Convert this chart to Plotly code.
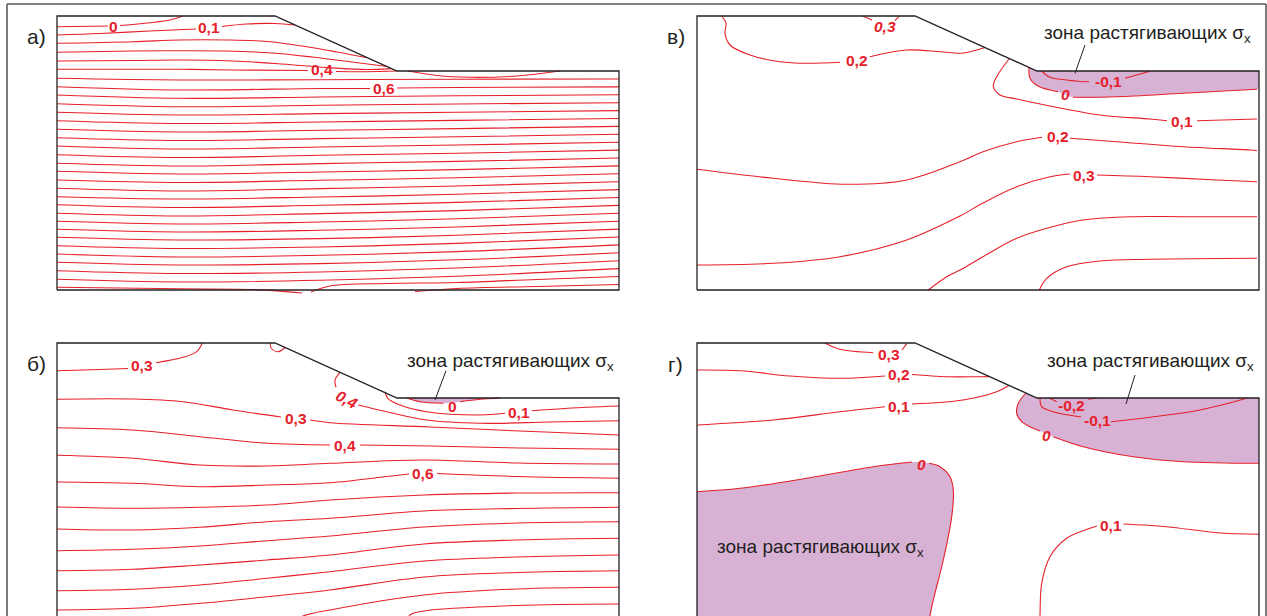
import plotly.graph_objects as go

FIG_W, FIG_H = 1267, 616
# section geometry (model units = px of the original drawing)
SEC_W, SEC_H = 562, 274
CREST_X, TOE_X, TOE_D = 218, 340, 55
PAD = 4

RED = '#e6202a'
PINK = '#d8b2d4'
INK = '#231f20'
FONT = 'Arial, Liberation Sans, sans-serif'

# ---------------- panel а ----------------
A_L0_X = [0, 51, None, 63, 93, 113, 126]
A_L0_Y = [10.7, 10, None, 9.5, 6.7, 4, 0]
A_L1_X = [0, 43, 93, 139, None, 165, 190, 218, 238]
A_L1_Y = [19, 17.5, 15, 13, None, 10.5, 8, 7.5, 9]
A_L2_X = [0, 76, 123, 170, 210, 245, 280, 310]
A_L2_Y = [27.3, 25.7, 24, 24, 25.5, 30, 36, 41.8]
A_L3_X = [0, 76, 123, 170, 215, 255, 295, 330]
A_L3_Y = [36.3, 35, 34.7, 35, 37, 41, 46, 50.5]
A_L4_X = [0, 76, 123, 175, 225, 270, 310, 334]
A_L4_Y = [45, 44.5, 44, 45, 48, 51.5, 53.5, 52.6]
A_L5_X = [0, 76, 123, 175, 251, None, 279, 310, 340]
A_L5_Y = [53.3, 53.3, 53.3, 54, 54.5, None, 55.5, 55.7, 55]
A_LOOP_X = [351, 380, 413, 460, 503]
A_LOOP_Y = [55, 59.5, 61.3, 60, 55]
A_L7_X = [0, 123, 263, 313, None, 340, 400, 562]
A_L7_Y = [70.7, 74, 72.5, 72.5, None, 72, 71.5, 70.9]
A_L31_X = [0, 123, 200, 245]
A_L31_Y = [271.3, 272.8, 273.6, 277]
A_E1_X = [254, 273, 330, 400, 480, 562]
A_E1_Y = [276, 270, 267.5, 266.5, 263.5, 260.5]
A_E2_X = [358, 400, 480, 562]
A_E2_Y = [275.5, 272.5, 270.5, 268.5]
# the remaining, nearly parallel lines: depth read at five verticals
A_COL_X = [0, 123, 263, 400, 562]
A_Y_0 = [62.3, 79, 87.7, 96.3, 104.7, 113.3, 121.7, 130, 138.7, 147.3, 155.3, 164, 172.3,
         180.7, 188.7, 197.3, 205.3, 213.3, 221.3, 229.7, 238, 246.3, 254.7, 263.3]
A_Y_123 = [64, 82.3, 90.7, 99, 107.5, 116, 124.5, 133, 141.5, 150, 158, 166.5, 175, 183,
           191.5, 200, 208, 216, 224, 232.5, 241, 249, 257.5, 266]
A_Y_263 = [63.7, 81, 89.3, 97.6, 106, 114.3, 122.6, 131, 139.3, 147.6, 156, 164.3, 172.6,
           181, 189.3, 197.6, 206, 214.3, 222.6, 231, 239.3, 247.6, 256, 264.3]
A_Y_400 = [63.2, 79.8, 88, 96.2, 104.4, 112.6, 120.8, 129, 137.2, 145.4, 153.6, 161.8, 170,
           178.2, 186.4, 194.6, 202.8, 211, 219.2, 227.4, 235.6, 243.8, 252, 260.2]
A_Y_562 = [63, 78.8, 86.7, 94.6, 102.5, 110.4, 118.3, 126.2, 134.1, 142, 149.9, 157.8, 165.7,
           173.6, 181.5, 189.4, 197.3, 205.2, 213.1, 221, 228.9, 236.8, 244.7, 252.6]
A_LAB_T = ['0', '0,1', '0,4', '0,6']
A_LAB_X = [56.7, 152, 264.5, 326.5]
A_LAB_Y = [10.5, 11.5, 54, 73]

# ---------------- panel в ----------------
V_03_X = [165.7, 175, None, 198, 202.3]
V_03_Y = [0, 4, None, 4.7, 0]
V_02_X = [24.7, 29, 28, 33, 53, 83, 109.7, 143, None, 173, 209.7, 243, 263, 273, 288]
V_02_Y = [0, 7.3, 17.3, 29, 39, 45.7, 47.3, 46.3, None, 40.7, 34, 35.7, 37.3, 35.7, 31.5]
V_01_X = [312, 299.7, 296.3, 303, 319.7, 353, 403, 453, 470, None, 500, 560]
V_01_Y = [43, 60.7, 70.7, 79, 83, 90, 99, 103, 104.7, None, 104.7, 103]
V_0_X = [332, 333, 341, 361, None, 376, 420, 486, 560]
V_0_Y = [51.2, 62.3, 70, 75.7, None, 81.3, 80.7, 77.3, 73.3]
V_M01_X = [344.7, 353, 369.7, 386.3, 392, None, 428, 453]
V_M01_Y = [55, 61.3, 64, 65.7, 65.7, None, 62.3, 55.2]
V_02B_X = [0, 76, 149.7, 209.7, 263, 286, 319.7, 345, None, 373, 419.7, 486, 553, 560]
V_02B_Y = [153.3, 162.3, 168.3, 164, 145.7, 135.7, 125.7, 121.3, None, 122.3, 125.7, 130.7, 134, 134.7]
V_03B_X = [0, 76, 143, 209.7, 263, 286, 319.7, 353, 373, None, 400, 453, 519.7, 560]
V_03B_Y = [249, 247.3, 240.7, 224, 200, 187, 170.7, 160.7, 158, None, 159, 160.7, 164, 165.7]
V_B5_X = [231.3, 249.7, 263, 286, 319.7, 349.7, 386, 436, 486, 560]
V_B5_Y = [274, 260.7, 254, 240.7, 222.3, 212.3, 204, 200.7, 200.7, 200.7]
V_B6_X = [342.3, 349.7, 369.7, 403, 453, 560]
V_B6_Y = [274, 262.3, 250.7, 245, 243.3, 242.3]
V_LAB_T = ['0,3', '0,2', '-0,1', '0', '0,1', '0,2', '0,3']
V_LAB_X = [188, 159.5, 411, 368, 485, 360.5, 387]
V_LAB_Y = [11, 44.5, 65.5, 79, 105.5, 121, 160]
V_LAB_IT = [True, False, False, True, False, False, False]

# ---------------- panel б ----------------
B_03A_X = [0, 43, 71, None, 99, 126, 139.7, 145.3]
B_03A_Y = [27.7, 26.5, 25.5, None, 19.7, 14.3, 8.7, 0]
B_LOOP_X = [213, 214.7, 221.3, 228]
B_LOOP_Y = [0, 6, 8.7, 4.5]
B_04R_X = [283, 278, 279, None, 301.3, 329.7, 369.7, 423, 493, 562]
B_04R_Y = [29.3, 37, 44.3, None, 62, 68.7, 77, 80.3, 79, 77.7]
B_0_X = [349.7, 363, 386.3, None, 403, 423, 443]
B_0_Y = [55, 58.7, 60.3, None, 58.7, 56.3, 55]
B_01_X = [328, 330.7, 343, 369.7, 423, 448, None, 474.7, 529.7, 562]
B_01_Y = [48.7, 55.3, 62, 68.7, 72, 70.3, None, 67.7, 64.3, 63]
B_03B_X = [0, 76, 126, 176, 224, None, 253, 273, 373, 463, 562]
B_03B_Y = [56.3, 56, 58.7, 67, 74, None, 77, 79.7, 84, 88, 92]
B_04B_X = [0, 76, 143, 209.7, 273, None, 303, 373, 463, 562]
B_04B_Y = [84.7, 87, 93.7, 100.3, 102, None, 102, 103, 105, 106.3]
B_06_X = [0, 76, 143, 210, 273, 330, 352, None, 380, 460, 562]
B_06_Y = [139, 140.3, 143.7, 142, 139.7, 133.5, 131, None, 130.5, 133.5, 135.3]
B_COL_X = [0, 76, 143, 210, 273, 367, 460, 562]
B_Y_0 = [112.3, 164, 186, 207.7, 227.7, 247.7, 267]
B_Y_76 = [115.3, 165.3, 187, 206.3, 226.3, 246.3, 265.3]
B_Y_143 = [122, 164.3, 184.3, 203, 222, 242, 260.3]
B_Y_210 = [123, 162, 178.7, 197.7, 217, 235.3, 253.7]
B_Y_273 = [120.3, 157, 175.3, 193, 212, 228.7, 247]
B_Y_367 = [117, 152, 168, 184, 201, 218, 234]
B_Y_460 = [120, 150, 165.5, 180, 197, 214, 229.5]
B_Y_562 = [121, 149.7, 164.3, 178.7, 195.3, 212, 227.7]
B_L11_X = [233, 246, 273, 367, 460, 562]
B_L11_Y = [280, 273, 267, 252, 246, 244.3]
B_L12_X = [350, 353, 367, 460, 562]
B_L12_Y = [280, 272, 268, 262.5, 261]
B_LAB_T = ['0,3', '0,4', '0', '0,1', '0,3', '0,4', '0,6']
B_LAB_X = [85, 290, 395.5, 462, 239, 288, 366]
B_LAB_Y = [22.5, 56, 63, 69.7, 75, 102, 130]
B_LAB_IT = [False, True, False, False, False, False, False]
B_LAB_ANG = [0, 28, 0, 0, 0, 0, 0]

# ---------------- panel г ----------------
G_03_X = [128, 143, 176.3, None, 205, 210]
G_03_Y = [0, 6.3, 9.7, None, 7, 0.3]
G_02_X = [0, 43, 93, 143, 188, None, 215, 249.7, 283, 293]
G_02_Y = [27, 27.7, 33, 35.3, 33, None, 31.5, 33.7, 33.7, 33.6]
G_01_X = [0, 76.3, 143, 188, None, 215, 266, 299.7, 312]
G_01_Y = [82, 77, 68.7, 63.7, None, 61, 57, 48.7, 42.5]
G_0L_X = [0, 43, 109.7, 176.3, 215, None, 232, 243, 253, 256.3, 254.7, 246.3, 236.3, 233, 232]
G_0L_Y = [148.7, 145.3, 135.3, 123.7, 119, None, 120.3, 123.7, 133.7, 147, 173.7, 217, 257, 273, 285]
G_0R_X = [329, 321.3, 319.7, 324.7, 336.3, 343, None, 356.3, 386.3, 436.3, 486.3, 562]
G_0R_Y = [50, 60.3, 70.3, 78.7, 85.3, 88, None, 93.7, 103.7, 113.7, 118.7, 120.3]
G_M01_X = [343, 344.7, 356.3, 384, None, 414, 453, 503, 549.7]
G_M01_Y = [55, 63.7, 68.7, 74, None, 78.7, 74.3, 67, 55.3]
G_M02_X = [353, 359.7, None, 391.3, 399.7]
G_M02_Y = [55.3, 58.7, None, 56.3, 55.3]
G_01B_X = [342.5, 343, 344.7, 353, 369.7, 393, 400, None, 426.3, 469.7, 519.7, 562]
G_01B_Y = [285, 273, 240.3, 213.7, 195.3, 185.3, 183, None, 181, 183.7, 189.7, 191.3]
G_LAB_T = ['0,3', '0,2', '0,1', '0', '0', '-0,2', '-0,1', '0,1']
G_LAB_X = [192, 202, 202, 224, 349.5, 374.5, 400.5, 414]
G_LAB_Y = [11, 31, 63, 121, 92, 62, 77, 182]
G_LAB_IT = [False, False, False, True, True, False, False, False]

ZONE_TEXT = 'зона растягивающих σ<sub>x</sub>'
PANEL_NAMES = ['а)', 'в)', 'б)', 'г)']
PANEL_LAB_PX = [(36, 37), (676, 37), (36, 363), (675, 364)]

# ---------------- figure ----------------
PANELS = {'а': (57, 16, 'x', 'y'), 'в': (697, 16, 'x2', 'y2'),
          'б': (57, 343, 'x3', 'y3'), 'г': (697, 343, 'x4', 'y4')}

fig = go.Figure()
layout = dict(width=FIG_W, height=FIG_H, margin=dict(l=0, r=0, t=0, b=0),
              paper_bgcolor='white', plot_bgcolor='rgba(0,0,0,0)', showlegend=False)
for key, (ox, oy, xa, ya) in PANELS.items():
    bottom_px = min(oy + SEC_H + PAD, FIG_H)
    xname = 'xaxis' + xa[1:]
    yname = 'yaxis' + ya[1:]
    layout[xname] = dict(domain=[(ox - PAD) / FIG_W, (ox + SEC_W + PAD) / FIG_W],
                         range=[-PAD, SEC_W + PAD], visible=False, anchor=ya, fixedrange=True)
    layout[yname] = dict(domain=[1 - bottom_px / FIG_H, 1 - (oy - PAD) / FIG_H],
                         range=[bottom_px - oy, -PAD], visible=False, anchor=xa, fixedrange=True)
fig.update_layout(**layout)


def ax(p):
    return PANELS[p][2], PANELS[p][3]


def curve(p, xs, ys, color=RED, width=1.1, shape='spline'):
    xa, ya = ax(p)
    fig.add_trace(go.Scatter(x=xs, y=ys, xaxis=xa, yaxis=ya, mode='lines',
                             line=dict(color=color, width=width, shape=shape),
                             hoverinfo='skip'))


def area(p, xs, ys, color, shape='spline'):
    xa, ya = ax(p)
    fig.add_trace(go.Scatter(x=xs, y=ys, xaxis=xa, yaxis=ya, mode='lines', fill='toself',
                             fillcolor=color, line=dict(width=0, shape=shape),
                             hoverinfo='skip'))


def solid(xs, ys):
    return [v for v in xs if v is not None], [v for v in ys if v is not None]


def zone(p, xs, ys, pre, post):
    cx, cy = solid(xs, ys)
    px = [q[0] for q in pre] + cx + [q[0] for q in post]
    py = [q[1] for q in pre] + cy + [q[1] for q in post]
    area(p, px, py, PINK)


def mask(p, left=False):
    area(p, [CREST_X, TOE_X, SEC_W, SEC_W, SEC_W + 30, SEC_W + 30, CREST_X],
         [0, TOE_D, TOE_D, SEC_H + 30, SEC_H + 30, -30, -30], 'white', 'linear')
    if left:
        area(p, [-30, 0, 0, -30], [-30, -30, SEC_H + 30, SEC_H + 30], 'white', 'linear')


def outline(p):
    curve(p, [0, 0, CREST_X, TOE_X, SEC_W, SEC_W, 0],
          [SEC_H, 0, 0, TOE_D, TOE_D, SEC_H, SEC_H], INK, 1.3, 'linear')


def labels(p, ts, xs, ys, its=None, angs=None):
    xa, ya = ax(p)
    for i, t in enumerate(ts):
        it = its[i] if its else False
        txt = '<b><i>%s</i></b>' % t if it else '<b>%s</b>' % t
        fig.add_annotation(x=xs[i], y=ys[i], xref=xa, yref=ya, text=txt, showarrow=False,
                           xanchor='center', yanchor='middle',
                           textangle=angs[i] if angs else 0,
                           font=dict(family=FONT, size=15.5, color=RED))


def columns(p, col_x, cols):
    for i in range(len(cols[0])):
        curve(p, col_x, [c[i] for c in cols])


# pink zones
zone('в', V_0_X, V_0_Y, [(331, 42)], [(575, 72.5), (575, 35), (331, 35)])
zone('б', B_0_X, B_0_Y, [(346, 50)], [(447, 50)])
zone('г', G_0R_X, G_0R_Y, [(333, 42)], [(575, 120.3), (575, 35), (333, 35)])
zone('г', G_0L_X, G_0L_Y, [(-12, 149)], [(230, 300), (-12, 300)])
for p in ['в', 'б']:
    mask(p)
mask('г', left=True)

# panel а lines
for xs, ys in [(A_L0_X, A_L0_Y), (A_L1_X, A_L1_Y), (A_L2_X, A_L2_Y), (A_L3_X, A_L3_Y),
               (A_L4_X, A_L4_Y), (A_L5_X, A_L5_Y), (A_LOOP_X, A_LOOP_Y), (A_L7_X, A_L7_Y),
               (A_L31_X, A_L31_Y), (A_E1_X, A_E1_Y), (A_E2_X, A_E2_Y)]:
    curve('а', xs, ys)
columns('а', A_COL_X, [A_Y_0, A_Y_123, A_Y_263, A_Y_400, A_Y_562])

# panel в lines
for xs, ys in [(V_03_X, V_03_Y), (V_02_X, V_02_Y), (V_01_X, V_01_Y), (V_0_X, V_0_Y),
               (V_M01_X, V_M01_Y), (V_02B_X, V_02B_Y), (V_03B_X, V_03B_Y),
               (V_B5_X, V_B5_Y), (V_B6_X, V_B6_Y)]:
    curve('в', xs, ys)

# panel б lines
for xs, ys in [(B_03A_X, B_03A_Y), (B_LOOP_X, B_LOOP_Y), (B_04R_X, B_04R_Y), (B_0_X, B_0_Y),
               (B_01_X, B_01_Y), (B_03B_X, B_03B_Y), (B_04B_X, B_04B_Y), (B_06_X, B_06_Y),
               (B_L11_X, B_L11_Y), (B_L12_X, B_L12_Y)]:
    curve('б', xs, ys)
columns('б', B_COL_X, [B_Y_0, B_Y_76, B_Y_143, B_Y_210, B_Y_273, B_Y_367, B_Y_460, B_Y_562])

# panel г lines
for xs, ys in [(G_03_X, G_03_Y), (G_02_X, G_02_Y), (G_01_X, G_01_Y), (G_0L_X, G_0L_Y),
               (G_0R_X, G_0R_Y), (G_M01_X, G_M01_Y), (G_M02_X, G_M02_Y), (G_01B_X, G_01B_Y)]:
    curve('г', xs, ys)

for p in PANELS:
    outline(p)

# leaders for the zone captions
curve('в', [388, 378], [29, 57.3], INK, 1, 'linear')
curve('б', [389, 378], [27.7, 57], INK, 1, 'linear')
curve('г', [438, 429], [32, 61], INK, 1, 'linear')

labels('а', A_LAB_T, A_LAB_X, A_LAB_Y)
labels('в', V_LAB_T, V_LAB_X, V_LAB_Y, V_LAB_IT)
labels('б', B_LAB_T, B_LAB_X, B_LAB_Y, B_LAB_IT, B_LAB_ANG)
labels('г', G_LAB_T, G_LAB_X, G_LAB_Y, G_LAB_IT)

for p, (zx, zy) in [('в', (450, 18)), ('б', (453, 19)), ('г', (453, 19)), ('г', (123, 205))]:
    xa, ya = ax(p)
    fig.add_annotation(x=zx, y=zy, xref=xa, yref=ya, text=ZONE_TEXT, showarrow=False,
                       xanchor='center', yanchor='middle',
                       font=dict(family=FONT, size=19, color=INK))

for name, (lx, ly) in zip(PANEL_NAMES, PANEL_LAB_PX):
    fig.add_annotation(x=lx / FIG_W, y=1 - ly / FIG_H, xref='paper', yref='paper', text=name,
                       showarrow=False, xanchor='center', yanchor='middle',
                       font=dict(family=FONT, size=21, color=INK))

# outer frame (open at the bottom, cut by the picture edge)
FRAME = '#5a5a5a'
for (x0, y0, x1, y1) in [(7, 4, 1266, 4), (7, 4, 7, 616), (1266, 4, 1266, 616)]:
    fig.add_shape(type='line', xref='paper', yref='paper', x0=x0 / FIG_W, x1=x1 / FIG_W,
                  y0=1 - y0 / FIG_H, y1=1 - y1 / FIG_H, line=dict(color=FRAME, width=1.6))

fig.write_html('out.html', config={'displayModeBar': False},
               post_script="document.body.style.margin='0';")
